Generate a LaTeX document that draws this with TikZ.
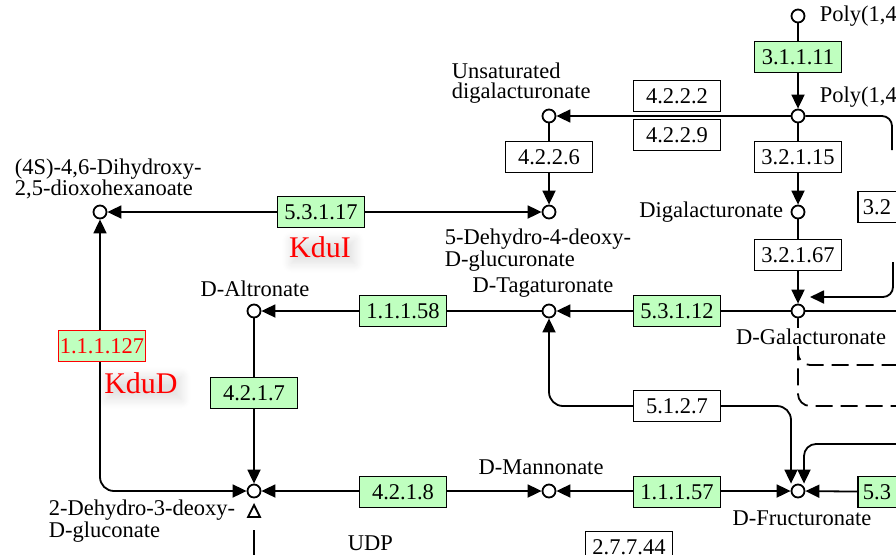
\documentclass[tikz,border=0pt]{standalone}
\usepackage{fontspec}
\setmainfont{Liberation Serif}
\usetikzlibrary{arrows.meta,backgrounds,shadows.blur}
\definecolor{ecgreen}{HTML}{BFFFBF}
\begin{document}
\begin{tikzpicture}[x=1pt,y=-1pt,line width=1.8pt,
  every node/.style={font=\fontsize{22.5}{20}\selectfont,inner sep=1pt},
  c/.style={circle,draw,fill=white,minimum size=13pt,inner sep=0pt},
  b/.style={draw,fill=white,minimum width=87pt,minimum height=31pt,inner sep=0pt},
  g/.style={b,fill=ecgreen},
  lab/.style={align=left},
  k/.style={text=red,font=\fontsize{30}{30}\selectfont,blur shadow={shadow xshift=3pt,shadow yshift=-5pt,shadow blur radius=9pt,shadow blur steps=12,shadow opacity=12}},
  ar/.style={-{Triangle[length=14pt,width=13pt]}},
  ar2/.style={{Triangle[length=14pt,width=13pt]}-{Triangle[length=14pt,width=13pt]}}]
\useasboundingbox (0,0) rectangle (896,554);
\node[c] (poly1) at (798,16){};\node[c] (poly2) at (798,116){};\node[c] (unsat) at (549,116){};
\node[c] (dihyd) at (100,212){};\node[c] (dehyd) at (549,212){};\node[c] (digal) at (798,212){};
\node[c] (altro) at (254,311){};\node[c] (dtag) at (549,311){};\node[c] (dgal) at (798,311){};
\node[c] (kdg) at (254,491){};\node[c] (manno) at (549,491){};\node[c] (fruct) at (798,491){};
\node[g] (e31111) at (798,57){3.1.1.11};
\node[b] (e4222) at (677,96){4.2.2.2};\node[b] (e4229) at (677,135){4.2.2.9};
\node[b] (e32115) at (798,157){3.2.1.15};\node[b] (e4226) at (549,157){4.2.2.6};
\node[b,anchor=west,text width=80pt,inner xsep=5pt,align=left] (e32x) at (857,207){3.2};
\node[b] (e32167) at (798,255){3.2.1.67};
\node[g] (e53117) at (321,212){5.3.1.17};
\node[g] (e11158) at (403,311){1.1.1.58};\node[g] (e53112) at (677,311){5.3.1.12};
\node[g,draw=red,text=red] (e111127) at (102,346){1.1.1.127};
\node[g] (e4217) at (254,393){4.2.1.7};\node[b] (e5127) at (677,406){5.1.2.7};
\node[g] (e4218) at (403,492){4.2.1.8};\node[g] (e11157) at (677,492){1.1.1.57};
\node[g,anchor=west,text width=80pt,inner xsep=5pt,align=left] (e53x) at (857,492){5.3};
\node[b] (e27744) at (629,547){2.7.7.44};
\node[lab,anchor=west] (l-poly1) at (818,16){Poly(1,4};
\node[lab,anchor=west] (l-poly2) at (818,97){Poly(1,4};
\node[lab,anchor=west] (l-unsat) at (450,83){Unsaturated\\digalacturonate};
\node[lab,anchor=west] (l-dihyd) at (13,179){(4S)-4,6-Dihydroxy-\\2,5-dioxohexanoate};
\node[lab,anchor=west] (l-dehyd) at (443,250){5-Dehydro-4-deoxy-\\D-glucuronate};
\node[lab,anchor=east] (l-digal) at (785,212){Digalacturonate};
\node[lab] (l-altro) at (255,289){D-Altronate};\node[lab] (l-dtag) at (543,288){D-Tagaturonate};
\node[lab,fill=white] (l-dgal) at (811,337){D-Galacturonate};
\node[lab,anchor=west] (l-kdg) at (47,521){2-Dehydro-3-deoxy-\\D-gluconate};
\node[lab] (l-manno) at (541,467){D-Mannonate};\node[lab] (l-fruct) at (802,518){D-Fructuronate};
\node[lab,anchor=north west] (l-udp) at (346,534){UDP};
\node[k] (kdui) at (320,247){KduI};\node[k] (kdud) at (141,383){KduD};
\coordinate (dgal-in) at (810,297);\coordinate (dgal-src) at (893,262);
\coordinate (fruct-src) at (900,444);\coordinate (poly2-out) at (892,150);
\coordinate (dgal-out) at (900,311);\coordinate (dash1) at (900,365);\coordinate (dash2) at (900,406);
\begin{scope}[on background layer]
\begin{scope}[line width=1.8pt]
\draw[ar] (poly1)--(poly2);\draw[ar] (poly2)--(unsat);\draw[ar] (unsat)--(dehyd);
\draw[ar2] (dihyd)--(dehyd);
\draw[ar] (poly2)--(digal);\draw[ar] (digal)--(dgal);
\draw[ar] (dgal)--(dtag);\draw[ar] (dtag)--(altro);\draw[ar] (altro)--(kdg);
\draw[ar2,rounded corners=14pt] (dihyd)|-(kdg);
\draw[ar2] (kdg)--(manno);\draw[ar2] (manno)--(fruct);
\draw[ar] (e53x)--(fruct);
\draw[ar2,rounded corners=14pt] (dtag)|-(e5127.center)-|([xshift=-7pt]fruct.north);
\draw[ar,rounded corners=12pt] (fruct-src)-|([xshift=6pt]fruct.north);
\draw[ar,rounded corners=10pt] (dgal-src)|-(dgal-in);
\draw[rounded corners=10pt] (poly2)-|(poly2-out);
\draw (dgal)--(dgal-out);
\draw[dash pattern=on 17pt off 8pt,rounded corners=12pt] (dgal)|-(dash1);
\draw[dash pattern=on 17pt off 8pt,rounded corners=12pt] (dgal)|-(dash2);
\end{scope}
\end{scope}
\draw (254,505)--(248,517)--(260,517)--cycle;
\draw (254,530)--(254,560);
\end{tikzpicture}
\end{document}
